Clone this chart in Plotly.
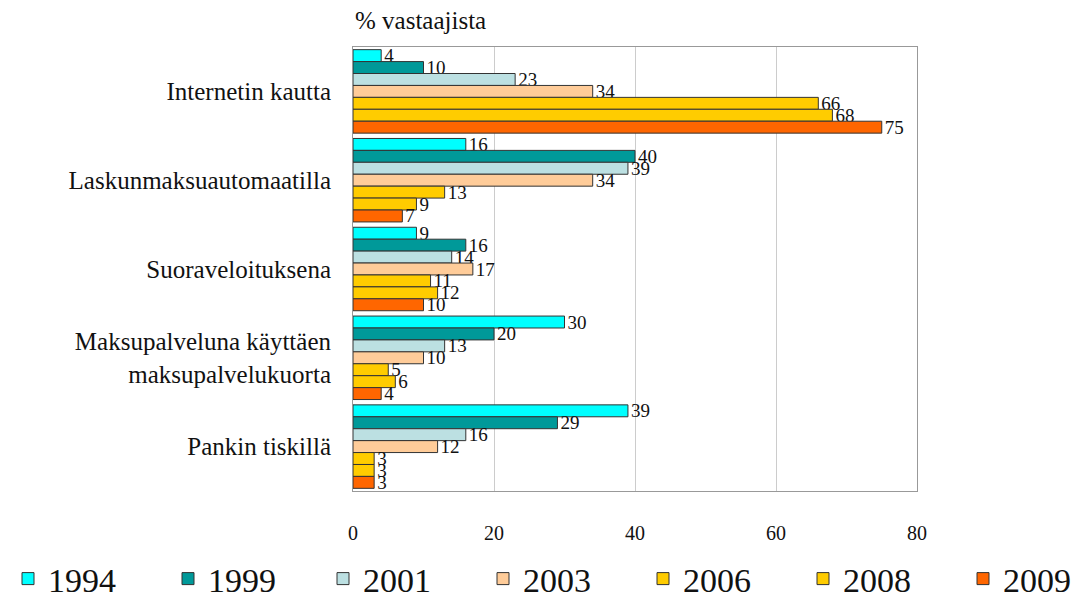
import plotly.graph_objects as go

categories = ["Internetin kautta", "Laskunmaksuautomaatilla", "Suoraveloituksena",
              "Maksupalveluna käyttäen<br>maksupalvelukuorta", "Pankin tiskillä"]
years = ["1994", "1999", "2001", "2003", "2006", "2008", "2009"]
values = {
    "1994": [4, 16, 9, 30, 39],
    "1999": [10, 40, 16, 20, 29],
    "2001": [23, 39, 14, 13, 16],
    "2003": [34, 34, 17, 10, 12],
    "2006": [66, 13, 11, 5, 3],
    "2008": [68, 9, 12, 6, 3],
    "2009": [75, 7, 10, 4, 3],
}
colors = {
    "1994": "#00FFFF", "1999": "#009999", "2001": "#BCE0E2", "2003": "#FFCC99",
    "2006": "#FFCC00", "2008": "#FFCC00", "2009": "#FF6600",
}
x_ticks = [0, 20, 40, 60, 80]

FONT = "Liberation Serif, Times New Roman, serif"
W, H = 1090, 602
legend_x_px = [0, 160, 315, 475, 635, 795, 955]

fig = go.Figure()
layout_legends = {}
for i, yr in enumerate(years):
    lname = "legend" if i == 0 else f"legend{i+1}"
    fig.add_trace(go.Bar(
        y=categories, x=values[yr], name=yr, orientation="h",
        marker=dict(color=colors[yr], line=dict(color="#333333", width=1)),
        text=[str(v) for v in values[yr]], textposition="outside",
        textfont=dict(family=FONT, size=19, color="#111111"),
        cliponaxis=False, constraintext="none",
        legend=lname,
    ))
    layout_legends[lname] = dict(
        orientation="h", x=legend_x_px[i] / W, xanchor="left", xref="container",
        y=1 - 571 / H, yanchor="middle", yref="container",
        font=dict(family=FONT, size=34, color="#111111"),
        bgcolor="rgba(0,0,0,0)",
    )

fig.update_layout(
    width=W, height=H,
    barmode="group", bargap=0.06, bargroupgap=0,
    plot_bgcolor="white", paper_bgcolor="white",
    margin=dict(l=345, r=181, t=39, b=119, autoexpand=False),
    font=dict(family=FONT, color="#111111"),
    showlegend=True,
    **layout_legends,
)
fig.add_annotation(text="% vastaajista", xref="x domain", yref="paper", x=0, y=1.025,
                   xanchor="left", yanchor="bottom", showarrow=False,
                   font=dict(family=FONT, size=25, color="#111111"))

fig.update_xaxes(range=[0, 80], tickvals=x_ticks, showgrid=True, gridcolor="#cccccc",
                 gridwidth=1, showline=True, linecolor="#999999", mirror=True,
                 ticks="", ticklabelstandoff=24, zeroline=False,
                 tickfont=dict(family=FONT, size=20, color="#111111"))
fig.update_yaxes(autorange="reversed", showline=True, linecolor="#999999", mirror=True,
                 ticks="", ticklabelstandoff=16,
                 tickfont=dict(family=FONT, size=25, color="#111111"))

fig.write_html("out.html")
